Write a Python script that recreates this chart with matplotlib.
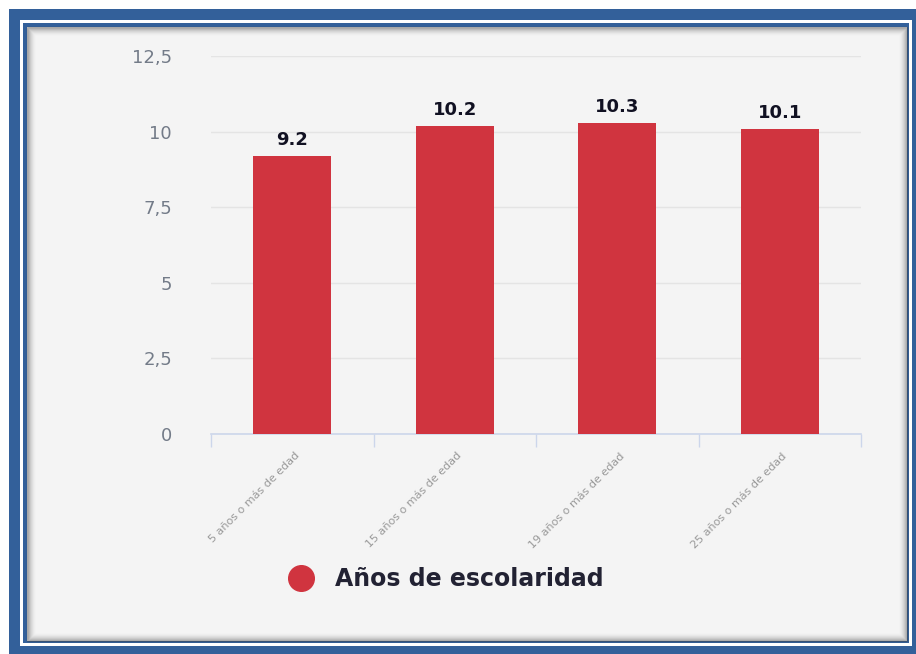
import matplotlib.pyplot as plt
from matplotlib.patches import Rectangle
from matplotlib.transforms import ScaledTranslation

# data
categories = ["5 años o más de edad", "15 años o más de edad",
              "19 años o más de edad", "25 años o más de edad"]
values = [9.2, 10.2, 10.3, 10.1]
value_labels = ["9.2", "10.2", "10.3", "10.1"]
y_ticks = [0, 2.5, 5, 7.5, 10, 12.5]
y_tick_labels = ["0", "2,5", "5", "7,5", "10", "12,5"]
series_name = "Años de escolaridad"

W, H = 916, 654
fig = plt.figure(figsize=(W / 100, H / 100), dpi=100, facecolor="white")

# frame / panel drawn in pixel coords
bg = fig.add_axes([0, 0, 1, 1], zorder=0)
bg.set_xlim(0, W)
bg.set_ylim(H, 0)
bg.axis("off")

blue = "#33609a"
bg.add_patch(Rectangle((9, 9), 940, 680, facecolor=blue, edgecolor="none"))
bg.add_patch(Rectangle((20, 20), 892, 626, facecolor="white", edgecolor="none"))
bg.add_patch(Rectangle((23, 23), 886, 620, facecolor=blue, edgecolor="none"))
bg.add_patch(Rectangle((27, 27), 880, 614, facecolor="#f4f4f4", edgecolor="none"))
# inner shadow
for k in range(9):
    a = 0.38 * (1 - k / 9) ** 2
    bg.add_patch(Rectangle((27 + k, 27 + k), 880 - 2 * k, 614 - 2 * k,
                           facecolor="none", edgecolor=(0.25, 0.25, 0.25, a), lw=1))

# legend
bg.scatter([301], [578], s=340, color="#d0343f", zorder=3)
bg.text(335, 579, series_name, fontsize=17, fontweight="bold",
        color="#222233", va="center", ha="left")

# chart axes
ax = fig.add_axes([211 / W, 1 - 434 / H, 650 / W, 378 / H], zorder=1)
ax.set_facecolor("none")
x = list(range(len(categories)))
bars = ax.bar(x, values, width=0.48, color="#d0343f", zorder=3)
ax.bar_label(bars, labels=value_labels, padding=5, fontsize=13,
             fontweight="bold", color="#111122")

ax.set_xlim(-0.5, len(categories) - 0.5)
ax.set_ylim(0, 12.5)
ax.set_yticks(y_ticks)
ax.set_yticklabels(y_tick_labels, fontsize=13, color="#737b88")
ax.tick_params(axis="y", length=0, pad=28)
ax.grid(axis="y", color="#e4e4e4", lw=1, zorder=0)

ax.set_xticks(x)
ax.set_xticklabels(categories, rotation=45, ha="right", rotation_mode="anchor",
                   fontsize=8, color="#999999")
ax.tick_params(axis="x", which="major", length=0, pad=12)
ax.set_xticks([i - 0.5 for i in range(len(categories) + 1)], minor=True)
ax.tick_params(axis="x", which="minor", length=9.5, width=1, color="#ccd6eb")
for lab in ax.get_xticklabels():
    lab.set_transform(lab.get_transform() + ScaledTranslation(0.02, 0, fig.dpi_scale_trans))

for side in ["top", "left", "right"]:
    ax.spines[side].set_visible(False)
ax.spines["bottom"].set_color("#ccd6eb")
ax.spines["bottom"].set_linewidth(1.2)

fig.savefig("out.png", dpi=100, facecolor="white")
